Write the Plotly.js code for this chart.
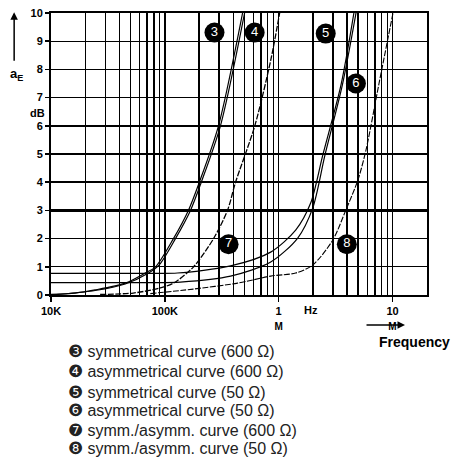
<!DOCTYPE html>
<html>
<head>
<meta charset="utf-8">
<script src="https://cdn.plot.ly/plotly-3.0.1.min.js"></script>
<style>html,body{margin:0;padding:0;background:#fff;}#chart{width:462px;height:472px;}</style>
</head>
<body>
<div id="chart"></div>
<script>
// ---- data ----
const freq3a = [1.0e4, 1.63e4, 2.44e4, 4.49e4, 6.73e4, 8.25e4, 1.19e5, 1.61e5, 2.01e5, 2.96e5, 4.82e5];
const db3a   = [0.02, 0.07, 0.18, 0.42, 0.78, 0.99, 2.0, 3.0, 4.0, 6.0, 10.0];
const freq3b = [1.0e4, 2.44e4, 4.49e4, 7.2e4, 8.9e4, 1.24e5, 1.68e5, 2.09e5, 3.08e5, 5.02e5];
const db3b   = [0.0, 0.16, 0.39, 0.78, 1.06, 2.0, 3.0, 4.0, 6.0, 10.0];
const freq4  = [2.70e4, 5.28e4, 9.13e4, 1.19e5, 1.78e5, 2.68e5, 3.55e5, 4.18e5, 6.15e5, 8.51e5, 1.02e6];
const db4    = [0.02, 0.07, 0.25, 0.42, 0.99, 2.0, 3.0, 4.0, 5.98, 8.32, 10.0];
const freq5a = [1.0e4, 7.45e4, 1.29e5, 3.78e5, 8.51e5, 1.41e6, 1.91e6, 2.44e6, 3.52e6, 4.58e6];
const db5a   = [0.77, 0.77, 0.78, 1.03, 1.52, 2.30, 3.26, 4.96, 7.43, 10.0];
const freq5b = [1.0e4, 7.45e4, 1.37e5, 3.78e5, 8.51e5, 1.47e6, 1.99e6, 2.55e6, 3.62e6, 4.78e6];
const db5b   = [0.44, 0.44, 0.46, 0.67, 1.17, 2.02, 3.08, 4.96, 7.43, 10.0];
const freq6  = [7.45e4, 1.78e5, 4.35e5, 8.51e5, 1.41e6, 1.99e6, 2.99e6, 3.89e6, 4.96e6, 5.84e6, 7.61e6, 1.01e7];
const db6    = [0.05, 0.21, 0.42, 0.67, 0.78, 1.06, 1.95, 3.01, 4.07, 5.13, 7.50, 10.0];

const markerFreq = [2.73e5, 6.15e5, 2.59e6, 4.77e6, 3.63e5, 3.97e6];
const markerDb   = [9.31, 9.31, 9.27, 7.5, 1.8, 1.8];
const markerText = ['3', '4', '5', '6', '7', '8'];

const xTickVals = [1e4, 1e5, 1e6, 1e7];
const xTickText = ['10K', '100K', '1<br><span style="font-size:10px">M</span>', '10<br><span style="font-size:10px">M</span>'];
const xMinorVals = [2e4,3e4,4e4,5e4,6e4,7e4,8e4,9e4, 2e5,3e5,4e5,5e5,6e5,7e5,8e5,9e5, 2e6,3e6,4e6,5e6,6e6,7e6,8e6,9e6];
const yTickVals = [0,1,2,3,4,5,6,7,8,9,10];
const yHeavyVals = [3, 4, 6];

const legendSymbols = ['❸','❹','❺','❻','❼','❽'];
const legendTexts = [
  'symmetrical curve (600 Ω)',
  'asymmetrical curve (600 Ω)',
  'symmetrical curve (50 Ω)',
  'asymmetrical curve (50 Ω)',
  'symm./asymm. curve (600 Ω)',
  'symm./asymm. curve (50 Ω)'
];

// ---- traces ----
function curve(x, y, width, dash) {
  return {x: x, y: y, type: 'scatter', mode: 'lines', hoverinfo: 'skip', showlegend: false,
          line: {color: '#000', width: width, dash: dash || 'solid', shape: 'spline', smoothing: 0.8}};
}
const traces = [
  {x: [], y: [], type: 'scatter', mode: 'lines', yaxis: 'y2', hoverinfo: 'skip', showlegend: false},
  curve(freq3a, db3a, 1.2),
  curve(freq3b, db3b, 1.2),
  curve(freq4, db4, 1.3, '6px,1.5px'),
  curve(freq5a, db5a, 1.2),
  curve(freq5b, db5b, 1.2),
  curve(freq6, db6, 1.1, '6px,1.5px'),
  {x: markerFreq, y: markerDb, text: markerText, type: 'scatter', mode: 'markers+text',
   hoverinfo: 'skip', showlegend: false, cliponaxis: false,
   marker: {color: '#000', size: 20, line: {width: 0}},
   textposition: 'middle center',
   textfont: {family: 'Liberation Sans, Arial, sans-serif', size: 13, color: '#fff'}}
];

const FAM = 'Liberation Sans, Arial, sans-serif';
const bold = {family: FAM, size: 11, color: '#000', weight: 'bold'};

const annotations = [
  {xref: 'paper', yref: 'paper', x: -0.092, y: 0.783, xanchor: 'center', yanchor: 'middle',
   text: 'a<sub>E</sub>', showarrow: false,
   font: {family: FAM, size: 13, color: '#000', weight: 'bold'}},
  {xref: 'paper', yref: 'paper', x: -0.035, y: 0.645, xanchor: 'center', yanchor: 'middle',
   text: 'dB', showarrow: false, font: bold},
  {xref: 'paper', yref: 'paper', x: -0.098, y: 1.003, ax: 0, ay: 50, text: '', showarrow: true,
   arrowhead: 2, arrowsize: 1, arrowwidth: 1.5, arrowcolor: '#000'},
  {xref: 'paper', yref: 'paper', x: 0.691, y: -0.053, xanchor: 'center', yanchor: 'middle',
   text: 'Hz', showarrow: false, font: bold},
  {xref: 'paper', yref: 'paper', x: 0.9415, y: -0.106, ax: -40, ay: 0, text: '', showarrow: true,
   arrowhead: 2, arrowsize: 1, arrowwidth: 1.5, arrowcolor: '#000'},
  {xref: 'paper', yref: 'paper', x: 0.968, y: -0.165, xanchor: 'center', yanchor: 'middle',
   text: 'Frequency', showarrow: false,
   font: {family: FAM, size: 14, color: '#000', weight: 'bold'}}
];
const legendY = [-0.202, -0.273, -0.344, -0.410, -0.479, -0.545];
legendTexts.forEach(function (t, i) {
  annotations.push({xref: 'paper', yref: 'paper', x: 0.040, y: legendY[i], xanchor: 'left', yanchor: 'middle',
    showarrow: false,
    text: '<span style="font-size:17px">' + legendSymbols[i] + '</span>\u00a0' + t,
    font: {family: FAM, size: 16, color: '#222'}});
});

const layout = {
  width: 462, height: 472,
  margin: {l: 51, r: 35, t: 13, b: 177, pad: 0},
  paper_bgcolor: '#fff', plot_bgcolor: '#fff',
  showlegend: false,
  xaxis: {
    type: 'log', range: [4, 7.303],
    tickmode: 'array', tickvals: xTickVals, ticktext: xTickText,
    ticks: 'outside', ticklen: 5, tickwidth: 1.5, tickcolor: '#000',
    showgrid: true, gridcolor: '#000', gridwidth: 1.5,
    minor: {tickmode: 'array', tickvals: xMinorVals, showgrid: true, gridcolor: '#000', gridwidth: 1.5, ticks: ''},
    showline: true, linecolor: '#000', linewidth: 2, mirror: true, zeroline: false,
    tickfont: bold, fixedrange: true
  },
  yaxis: {
    range: [0, 10], tickmode: 'array', tickvals: yTickVals,
    ticks: 'outside', ticklen: 4, tickwidth: 1.5, tickcolor: '#000',
    showgrid: true, gridcolor: '#000', gridwidth: 1.1,
    showline: true, linecolor: '#000', linewidth: 2, mirror: true, zeroline: false,
    tickfont: bold, fixedrange: true
  },
  yaxis2: {
    overlaying: 'y', side: 'left', range: [0, 10], tickmode: 'array', tickvals: yHeavyVals,
    showgrid: true, gridcolor: '#000', gridwidth: 2.2, showticklabels: false, ticks: '',
    showline: false, zeroline: false, fixedrange: true
  },
  annotations: annotations
};

Plotly.newPlot('chart', traces, layout, {staticPlot: true, displayModeBar: false});
</script>
</body>
</html>
